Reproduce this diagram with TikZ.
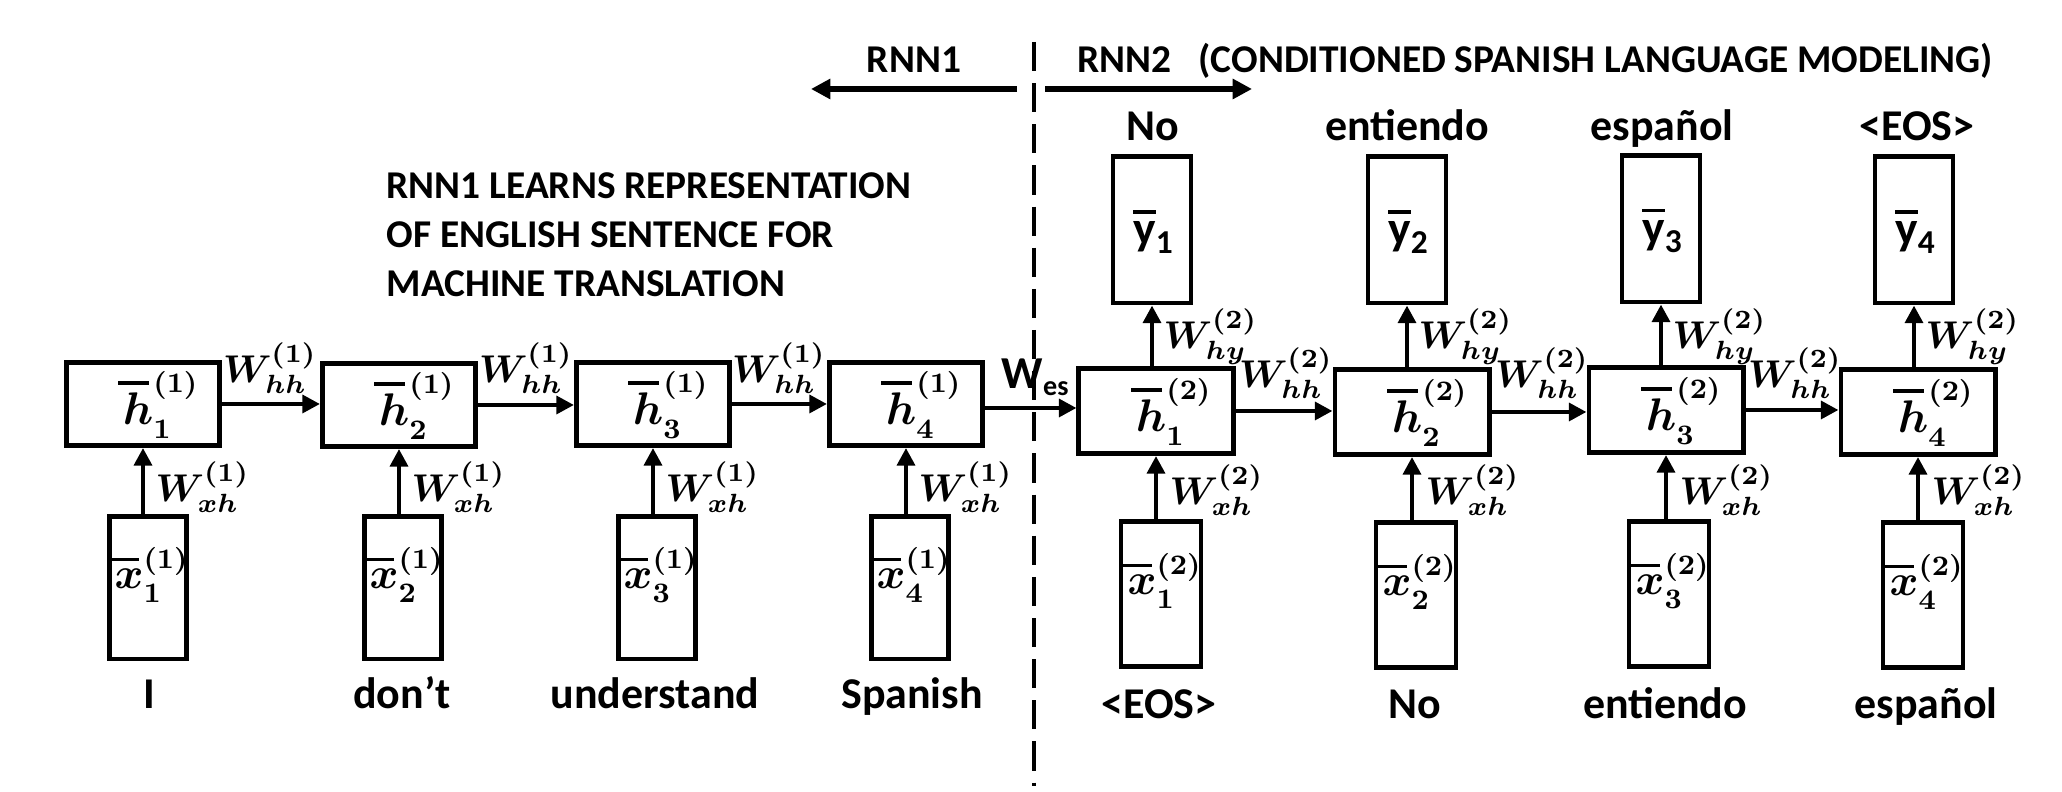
\RequirePackage{fix-cm}
\documentclass[tikz,border=0pt]{standalone}
\usepackage{amsmath}
\usepackage[no-math]{fontspec}
\setmainfont{Carlito}
\usetikzlibrary{arrows.meta}
\DeclareMathSizes{13}{13}{8}{6}
\DeclareMathSizes{12.5}{12.5}{8}{6}
\DeclareMathSizes{11}{11}{7.5}{6}
\DeclareMathSizes{13.5}{13.5}{9.5}{7}
\newcommand{\ovl}[2][0.1em]{\mathord{\vbox{\offinterlineskip\setbox0=\hbox{$#2$}\hbox{\kern-#1\rule{\wd0}{1pt}}\kern2.3pt\box0}}}
\begin{document}
\begin{tikzpicture}[x=0.01cm,y=-0.01cm,
  box/.style={draw, line width=1.4pt, inner sep=0pt},
  hboxa/.style={box, minimum width=1.53cm, minimum height=0.83cm},
  hboxb/.style={box, minimum width=1.54cm, minimum height=0.85cm},
  xboxa/.style={box, minimum width=0.77cm, minimum height=1.42cm},
  xboxb/.style={box, minimum width=0.80cm, minimum height=1.45cm},
  ybox/.style={box, minimum width=0.78cm, minimum height=1.46cm},
  arr/.style={line width=1.4pt, -{Triangle[length=5pt,width=5pt]}},
  bigarr/.style={line width=1.5pt, -{Triangle[length=5.5pt,width=5.5pt]}},
  mlab/.style={font=\fontsize{13}{15}\selectfont\boldmath, inner sep=0pt},
  xlab/.style={font=\fontsize{12.5}{15}\selectfont\boldmath, inner sep=0pt},
  wlab/.style={font=\fontsize{11}{13}\selectfont\boldmath, inner sep=0pt},
  ylab/.style={font=\fontsize{13.5}{16}\selectfont\bfseries, inner sep=0pt},
  word/.style={font=\fontsize{12.5}{15}\selectfont\bfseries, inner sep=0pt, anchor=base},
  ttl/.style={font=\fontsize{11.2}{13.9}\selectfont\bfseries, inner sep=0pt}
]
\useasboundingbox (0,0) rectangle (2062,792);

% ---------- RNN1 ----------
\node[hboxa] (ha1) at (143,404) {};
\node[hboxa] (ha2) at (399,405) {};
\node[hboxa] (ha3) at (653,404) {};
\node[hboxa] (ha4) at (906,404) {};
\node[mlab] (lha1) at (161,405) {$\ovl{h}_1^{(1)}$};
\node[mlab] (lha2) at (417,406) {$\ovl{h}_2^{(1)}$};
\node[mlab] (lha3) at (671,405) {$\ovl{h}_3^{(1)}$};
\node[mlab] (lha4) at (924,405) {$\ovl{h}_4^{(1)}$};

\node[xboxa] (xa1) at (148,588) {};
\node[xboxa] (xa2) at (403,588) {};
\node[xboxa] (xa3) at (657,588) {};
\node[xboxa] (xa4) at (910,588) {};
\node[xlab] (lxa1) at (152,575) {$\ovl{x}_1^{(1)}$};
\node[xlab] (lxa2) at (407,575) {$\ovl{x}_2^{(1)}$};
\node[xlab] (lxa3) at (661,575) {$\ovl{x}_3^{(1)}$};
\node[xlab] (lxa4) at (914,575) {$\ovl{x}_4^{(1)}$};

\draw[arr] (ha1.south |- xa1.north) -- (ha1.south);
\draw[arr] (ha2.south |- xa2.north) -- (ha2.south);
\draw[arr] (ha3.south |- xa3.north) -- (ha3.south);
\draw[arr] (ha4.south |- xa4.north) -- (ha4.south);
\node[wlab, anchor=south west] (wxa1) at (155,513) {$W_{xh}^{(1)}$};
\node[wlab, anchor=south west] (wxa2) at (411,513) {$W_{xh}^{(1)}$};
\node[wlab, anchor=south west] (wxa3) at (665,513) {$W_{xh}^{(1)}$};
\node[wlab, anchor=south west] (wxa4) at (918,513) {$W_{xh}^{(1)}$};

\draw[arr] (ha1.east) -- (ha1.east -| ha2.west);
\draw[arr] (ha2.east) -- (ha2.east -| ha3.west);
\draw[arr] (ha3.east) -- (ha3.east -| ha4.west);
\node[wlab, anchor=south] (wha1) at (270,394) {$W_{hh}^{(1)}$};
\node[wlab, anchor=south] (wha2) at (526,394) {$W_{hh}^{(1)}$};
\node[wlab, anchor=south] (wha3) at (779,394) {$W_{hh}^{(1)}$};

\node[word] (wa1) at (149,709) {I};
\node[word] (wa2) at (402,709) {don’t};
\node[word] (wa3) at (655,709) {understand};
\node[word] (wa4) at (912,709) {Spanish};

% ---------- RNN2 ----------
\node[hboxb] (hb1) at (1156,411) {};
\node[hboxb] (hb2) at (1412,412) {};
\node[hboxb] (hb3) at (1666,410) {};
\node[hboxb] (hb4) at (1918,412) {};
\node[mlab] (lhb1) at (1174,412) {$\ovl{h}_1^{(2)}$};
\node[mlab] (lhb2) at (1430,413) {$\ovl{h}_2^{(2)}$};
\node[mlab] (lhb3) at (1684,411) {$\ovl{h}_3^{(2)}$};
\node[mlab] (lhb4) at (1936,413) {$\ovl{h}_4^{(2)}$};

\node[ybox] (y1) at (1152,230) {};
\node[ybox] (y2) at (1407,230) {};
\node[ybox] (y3) at (1661,229) {};
\node[ybox] (y4) at (1914,230) {};
\node[ylab] (ly1) at (1154,232) {$\ovl[0pt]{\text{y}}_{\text{1}}$};
\node[ylab] (ly2) at (1409,232) {$\ovl[0pt]{\text{y}}_{\text{2}}$};
\node[ylab] (ly3) at (1663,231) {$\ovl[0pt]{\text{y}}_{\text{3}}$};
\node[ylab] (ly4) at (1916,232) {$\ovl[0pt]{\text{y}}_{\text{4}}$};

\node[xboxb] (xb1) at (1161,594) {};
\node[xboxb] (xb2) at (1416,595) {};
\node[xboxb] (xb3) at (1669,594) {};
\node[xboxb] (xb4) at (1923,595) {};
\node[xlab] (lxb1) at (1165,581) {$\ovl{x}_1^{(2)}$};
\node[xlab] (lxb2) at (1420,582) {$\ovl{x}_2^{(2)}$};
\node[xlab] (lxb3) at (1673,581) {$\ovl{x}_3^{(2)}$};
\node[xlab] (lxb4) at (1927,582) {$\ovl{x}_4^{(2)}$};

\draw[arr] (hb1.south |- xb1.north) -- (hb1.south);
\draw[arr] (hb2.south |- xb2.north) -- (hb2.south);
\draw[arr] (hb3.south |- xb3.north) -- (hb3.south);
\draw[arr] (hb4.south |- xb4.north) -- (hb4.south);
\node[wlab, anchor=south west] (wxb1) at (1169,516) {$W_{xh}^{(2)}$};
\node[wlab, anchor=south west] (wxb2) at (1425,516) {$W_{xh}^{(2)}$};
\node[wlab, anchor=south west] (wxb3) at (1679,516) {$W_{xh}^{(2)}$};
\node[wlab, anchor=south west] (wxb4) at (1931,516) {$W_{xh}^{(2)}$};

\draw[arr] (y1.south |- hb1.north) -- (y1.south);
\draw[arr] (y2.south |- hb2.north) -- (y2.south);
\draw[arr] (y3.south |- hb3.north) -- (y3.south);
\draw[arr] (y4.south |- hb4.north) -- (y4.south);
\node[wlab, anchor=south west] (wyb1) at (1163,365) {$W_{hy}^{(2)}$};
\node[wlab, anchor=south west] (wyb2) at (1418,365) {$W_{hy}^{(2)}$};
\node[wlab, anchor=south west] (wyb3) at (1672,365) {$W_{hy}^{(2)}$};
\node[wlab, anchor=south west] (wyb4) at (1925,365) {$W_{hy}^{(2)}$};

\draw[arr] (hb1.east) -- (hb1.east -| hb2.west);
\draw[arr] (hb2.east) -- (hb2.east -| hb3.west);
\draw[arr] (hb3.east) -- (hb3.east -| hb4.west);
\node[wlab, anchor=south] (whb1) at (1286,399) {$W_{hh}^{(2)}$};
\node[wlab, anchor=south] (whb2) at (1542,399) {$W_{hh}^{(2)}$};
\node[wlab, anchor=south] (whb3) at (1795,399) {$W_{hh}^{(2)}$};

\node[word] (wb1) at (1159,719) {<EOS>};
\node[word] (wb2) at (1415,719) {No};
\node[word] (wb3) at (1665,719) {entiendo};
\node[word] (wb4) at (1926,719) {español};

\node[word] (wt1) at (1153,141) {No};
\node[word] (wt2) at (1407,141) {entiendo};
\node[word] (wt3) at (1662,141) {español};
\node[word] (wt4) at (1917,141) {<EOS>};

% ---------- link ----------
\draw[arr] (ha4.east |- 0,408) -- (hb1.west |- 0,408);
\node[font=\fontsize{13}{15}\selectfont\bfseries, inner sep=0pt, anchor=base west] (wes) at (1001,389) {W$_{\text{es}}$};

\coordinate (dtop) at (1034,42);
\coordinate (dbot) at (1034,786);
\draw[line width=1.2pt, dash pattern=on 8.3pt off 3.4pt] (dtop) -- (dbot);

% ---------- headers ----------
\node[ttl, anchor=base] (rnna) at (914,73) {RNN1};
\node[ttl, anchor=base west] (rnnb) at (1077,73) {RNN2};
\node[ttl, anchor=base west] (cond) at (1198,73) {(CONDITIONED SPANISH LANGUAGE MODELING)};
\coordinate (la) at (1017,89);
\coordinate (lb) at (811,89);
\coordinate (ra) at (1045,89);
\coordinate (rb) at (1252,89);
\draw[bigarr] (la) -- (lb);
\draw[bigarr] (ra) -- (rb);

\node[ttl, anchor=north west, align=left] (note) at (386,172) {RNN1 LEARNS REPRESENTATION\\OF ENGLISH SENTENCE FOR\\MACHINE TRANSLATION};
\end{tikzpicture}
\end{document}
